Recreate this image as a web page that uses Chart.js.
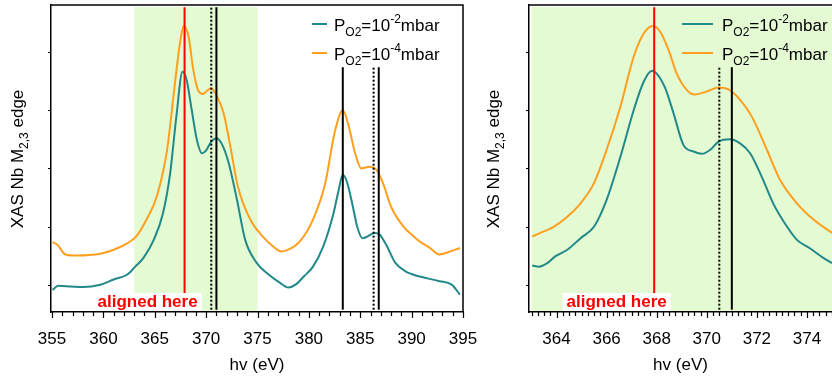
<!DOCTYPE html>
<html>
<head>
<meta charset="utf-8">
<script src="https://cdn.jsdelivr.net/npm/chart.js@4.4.1/dist/chart.umd.min.js"></script>
<style>
  body { margin: 0; background: #fff; overflow: hidden; width: 832px; height: 377px; position: relative; }
  canvas { position: absolute; top: 0; }
  #wide { left: 0; }
  #zoom { left: 480px; }
</style>
</head>
<body>
<canvas id="wide" width="480" height="377"></canvas>
<canvas id="zoom" width="352" height="377"></canvas>
<script>
// values (arbitrary intensity units)
const wideTealE = [355.05, 355.6, 356.8, 358.0, 359.7, 361.0, 362.3, 363.1, 363.9, 364.9, 365.8, 366.5, 367.1, 367.7, 368.1, 368.6, 369.1, 369.6, 370.0, 370.5, 371.0, 371.5, 372.2, 373.0, 373.8, 374.9, 375.9, 377.2, 378.0, 378.7, 379.5, 380.4, 381.4, 382.4, 382.9, 383.3, 383.7, 384.2, 384.7, 385.2, 385.6, 386.4, 386.9, 387.6, 388.4, 389.4, 390.2, 390.8, 392.7, 393.9, 394.7];
const wideTealI = [0.91, 0.98, 0.97, 0.96, 1.0, 1.09, 1.17, 1.31, 1.46, 1.77, 2.23, 2.92, 3.89, 4.66, 4.52, 4.0, 3.49, 3.26, 3.31, 3.46, 3.52, 3.43, 3.09, 2.46, 1.77, 1.38, 1.2, 1.03, 0.95, 1.0, 1.14, 1.31, 1.66, 2.23, 2.63, 2.89, 2.77, 2.41, 2.0, 1.80, 1.82, 1.89, 1.86, 1.66, 1.38, 1.23, 1.17, 1.14, 1.06, 1.0, 0.83];

const wideOrangeE = [355.05, 355.5, 356.3, 357.4, 359.7, 361.0, 362.4, 363.2, 364.2, 365.2, 366.2, 367.0, 367.5, 367.8, 368.3, 368.7, 369.2, 369.7, 370.0, 370.5, 371.0, 371.7, 372.3, 373.1, 374.3, 375.5, 376.5, 377.3, 378.1, 379.1, 380.4, 381.6, 382.5, 383.3, 383.8, 384.5, 385.1, 385.9, 386.6, 387.2, 388.0, 389.2, 390.2, 390.8, 391.8, 392.7, 393.4, 394.7];
const wideOrangeI = [1.73, 1.69, 1.52, 1.50, 1.53, 1.60, 1.72, 1.83, 2.12, 2.52, 3.32, 4.52, 5.21, 5.45, 5.26, 4.75, 4.35, 4.28, 4.32, 4.38, 4.26, 3.95, 3.43, 2.68, 2.12, 1.83, 1.66, 1.57, 1.61, 1.74, 2.12, 2.75, 3.61, 4.0, 3.78, 3.26, 3.0, 3.03, 2.97, 2.75, 2.34, 2.0, 1.83, 1.74, 1.63, 1.52, 1.55, 1.63];

const zoomTealE = [363.03, 363.3, 363.63, 363.96, 364.43, 364.96, 365.5, 366.0, 366.55, 367.08, 367.48, 367.81, 368.0, 368.34, 368.67, 369.07, 369.47, 369.8, 370.14, 370.47, 370.93, 371.33, 371.73, 372.2, 372.66, 373.2, 373.6, 374.1, 374.65, 375.0];
const zoomTealI = [1.33, 1.31, 1.37, 1.49, 1.6, 1.80, 2.0, 2.46, 3.2, 4.0, 4.49, 4.68, 4.63, 4.38, 3.95, 3.40, 3.29, 3.25, 3.32, 3.46, 3.50, 3.43, 3.26, 2.85, 2.39, 2.0, 1.77, 1.63, 1.46, 1.37];

const zoomOrangeE = [363.03, 363.36, 363.9, 364.43, 364.96, 365.5, 366.0, 366.55, 367.08, 367.48, 367.85, 368.14, 368.48, 368.8, 369.2, 369.5, 369.98, 370.47, 370.9, 371.33, 371.8, 372.4, 372.93, 373.6, 374.26, 375.0];
const zoomOrangeI = [1.83, 1.89, 2.0, 2.17, 2.40, 2.75, 3.32, 4.06, 4.92, 5.32, 5.45, 5.35, 5.03, 4.63, 4.35, 4.27, 4.32, 4.39, 4.35, 4.18, 3.89, 3.32, 2.80, 2.40, 2.12, 1.89];

const pressureExp = ['-2', '-4'];

const wideTicks = [355, 360, 365, 370, 375, 380, 385, 390, 395];
const zoomTicks = [364, 366, 368, 370, 372, 374];
const yTicks = [1, 2, 3, 4, 5];

// marker lines (energy, top of line)
const alignedAt = 367.9;
const wideSolidE = [371.0, 383.3, 386.8];
const wideSolidTop = [5.77, 4.74, 4.74];
const wideDottedE = [370.5, 386.3];
const wideDottedTop = [5.77, 4.74];
const zoomSolidE = [371.0];
const zoomSolidTop = [4.74];
const zoomDottedE = [370.5];
const zoomDottedTop = [4.74];
const markerBottom = 0.57;
const fullTop = 5.77;

const wideShade = [363, 375];
const zoomShade = [363, 376];

const TEAL = '#22898a';
const ORANGE = '#ff9f1f';
const FONT = '"Liberation Sans", Arial, sans-serif';

function pts(xs, ys) {
    return xs.map((x, i) => ({ x: x, y: ys[i] }));
}

function curve(xs, ys, color) {
    return {
        data: pts(xs, ys),
        borderColor: color,
        borderWidth: 2,
        pointRadius: 0,
        cubicInterpolationMode: 'monotone',
        fill: false,
    };
}

function vline(x, top, color, dotted) {
    return {
        data: [{ x: x, y: markerBottom }, { x: x, y: top }],
        borderColor: color,
        borderWidth: 2,
        borderDash: dotted ? [2, 2] : [],
        pointRadius: 0,
        tension: 0,
        fill: false,
    };
}

function richText(ctx, parts, x, y, size) {
    let cx = x;
    parts.forEach(p => {
        const small = p.sub || p.sup;
        ctx.font = (small ? Math.round(size * 0.72) : size) + 'px ' + FONT;
        const dy = p.sub ? size * 0.3 : (p.sup ? -size * 0.42 : 0);
        ctx.fillText(p.t, cx, y + dy);
        cx += ctx.measureText(p.t).width;
    });
    return cx - x;
}

function richWidth(ctx, parts, size) {
    let w = 0;
    parts.forEach(p => {
        const small = p.sub || p.sup;
        ctx.font = (small ? Math.round(size * 0.72) : size) + 'px ' + FONT;
        w += ctx.measureText(p.t).width;
    });
    return w;
}

const decor = {
    id: 'decor',
    beforeDatasetsDraw(chart, args, o) {
        const { ctx, chartArea: a, scales: { x } } = chart;
        ctx.save();
        ctx.fillStyle = '#e4fad2';
        const x0 = Math.max(x.getPixelForValue(o.shade[0]), a.left + 1);
        const x1 = Math.min(x.getPixelForValue(o.shade[1]), chart.width);
        ctx.fillRect(x0, a.top + 2, x1 - x0, a.bottom - a.top - 3);
        ctx.restore();
    },
    afterDatasetsDraw(chart, args, o) {
        const { ctx, chartArea: a, scales: { x } } = chart;
        ctx.save();
        // "aligned here" label with white box
        ctx.font = 'bold 17px ' + FONT;
        const txt = 'aligned here';
        const w = ctx.measureText(txt).width;
        const cx = x.getPixelForValue(o.labelAt);
        ctx.fillStyle = '#fff';
        ctx.fillRect(cx - w / 2 - 4, a.bottom - 19, w + 8, 18);
        ctx.fillStyle = '#ff0000';
        ctx.textAlign = 'center';
        ctx.textBaseline = 'alphabetic';
        ctx.fillText(txt, cx, a.bottom - 5.5);

        // legend
        ctx.textAlign = 'left';
        const colors = [TEAL, ORANGE];
        pressureExp.forEach((e, i) => {
            const ly = 24 + i * 29;
            ctx.strokeStyle = colors[i];
            ctx.lineWidth = 2;
            ctx.beginPath();
            ctx.moveTo(o.legend[0], ly);
            ctx.lineTo(o.legend[1], ly);
            ctx.stroke();
            ctx.fillStyle = '#000';
            richText(ctx, [{ t: 'P' }, { t: 'O2', sub: true }, { t: '=10' }, { t: e, sup: true }, { t: 'mbar' }],
                o.legend[2], ly + 6.5, 17);
        });
        ctx.restore();
    },
    afterDraw(chart, args, o) {
        const { ctx, chartArea: a, scales: { x, y } } = chart;
        ctx.save();
        ctx.strokeStyle = '#000';
        ctx.lineWidth = 1.5;
        // frame top/right
        ctx.beginPath();
        ctx.moveTo(a.left, a.top);
        ctx.lineTo(o.frameRight ? a.right : chart.width, a.top);
        if (o.frameRight) ctx.lineTo(a.right, a.bottom);
        ctx.stroke();

        // x ticks
        ctx.lineWidth = 1.2;
        ctx.beginPath();
        const n = Math.round((x.max - x.min) / o.minor) + 2;
        const start = Math.ceil(x.min / o.minor) * o.minor;
        for (let k = 0; k < n; k++) {
            const v = start + k * o.minor;
            if (v > x.max + 1e-6) break;
            const px = Math.round(x.getPixelForValue(v)) + 0.5;
            const r = v / o.major;
            const big = Math.abs(r - Math.round(r)) < 1e-6;
            ctx.moveTo(px, a.bottom);
            ctx.lineTo(px, a.bottom + (big ? 6 : 4));
        }
        // y ticks
        yTicks.forEach(v => {
            const py = Math.round(y.getPixelForValue(v)) + 0.5;
            ctx.moveTo(a.left - 3, py);
            ctx.lineTo(a.left, py);
        });
        ctx.stroke();

        // y title
        ctx.fillStyle = '#000';
        ctx.translate(o.titleX, 159);
        ctx.rotate(-Math.PI / 2);
        const parts = [{ t: 'XAS Nb M' }, { t: '2,3', sub: true }, { t: ' edge' }];
        const w = richWidth(ctx, parts, 17);
        richText(ctx, parts, -w / 2, 6, 17);
        ctx.restore();
    }
};

function makeOptions(xmin, xmax, ticks, yWidth, padRight, deco) {
    return {
        responsive: false,
        animation: false,
        layout: { padding: { top: 5, right: padRight, left: 0, bottom: 0 } },
        plugins: {
            legend: { display: false },
            tooltip: { enabled: false },
            decor: deco,
        },
        scales: {
            x: {
                type: 'linear',
                min: xmin,
                max: xmax,
                afterBuildTicks: s => { s.ticks = ticks.map(v => ({ value: v })); },
                afterFit: s => { s.height = 65; s.paddingLeft = 0; s.paddingRight = 0; },
                grid: { display: false },
                border: { display: true, color: '#000', width: 1.5 },
                ticks: { color: '#000', font: { size: 17, family: FONT }, padding: 9, maxRotation: 0 },
                title: { display: true, text: 'hv (eV)', color: '#000', font: { size: 17, family: FONT }, padding: { top: 0, bottom: 1 } },
            },
            y: {
                type: 'linear',
                min: 0.53,
                max: 5.81,
                afterBuildTicks: s => { s.ticks = yTicks.map(v => ({ value: v })); },
                afterFit: s => { s.width = yWidth; s.paddingTop = 0; s.paddingBottom = 0; },
                grid: { display: false },
                border: { display: true, color: '#000', width: 1.5 },
                ticks: { display: false },
            }
        }
    };
}

const wideSets = [vline(alignedAt, fullTop, '#ff0000', false)];
wideSolidE.forEach((e, i) => wideSets.push(vline(e, wideSolidTop[i], '#000', false)));
wideDottedE.forEach((e, i) => wideSets.push(vline(e, wideDottedTop[i], '#000', true)));
wideSets.push(curve(wideTealE, wideTealI, TEAL));
wideSets.push(curve(wideOrangeE, wideOrangeI, ORANGE));

new Chart(document.getElementById('wide'), {
    type: 'line',
    data: { datasets: wideSets },
    options: makeOptions(354.9, 395, wideTicks, 51, 17,
        { shade: wideShade, labelAt: 364.3, legend: [312, 327, 334], minor: 1, major: 5, titleX: 16.7, frameRight: true }),
    plugins: [decor]
});

const zoomSets = [vline(alignedAt, fullTop, '#ff0000', false)];
zoomSolidE.forEach((e, i) => zoomSets.push(vline(e, zoomSolidTop[i], '#000', false)));
zoomDottedE.forEach((e, i) => zoomSets.push(vline(e, zoomDottedTop[i], '#000', true)));
zoomSets.push(curve(zoomTealE, zoomTealI, TEAL));
zoomSets.push(curve(zoomOrangeE, zoomOrangeI, ORANGE));

new Chart(document.getElementById('zoom'), {
    type: 'line',
    data: { datasets: zoomSets },
    options: makeOptions(362.9, 375, zoomTicks, 49, 0,
        { shade: zoomShade, labelAt: 366.4, legend: [202, 233, 242], minor: 0.25, major: 2, titleX: 13, frameRight: false }),
    plugins: [decor]
});
</script>
</body>
</html>
